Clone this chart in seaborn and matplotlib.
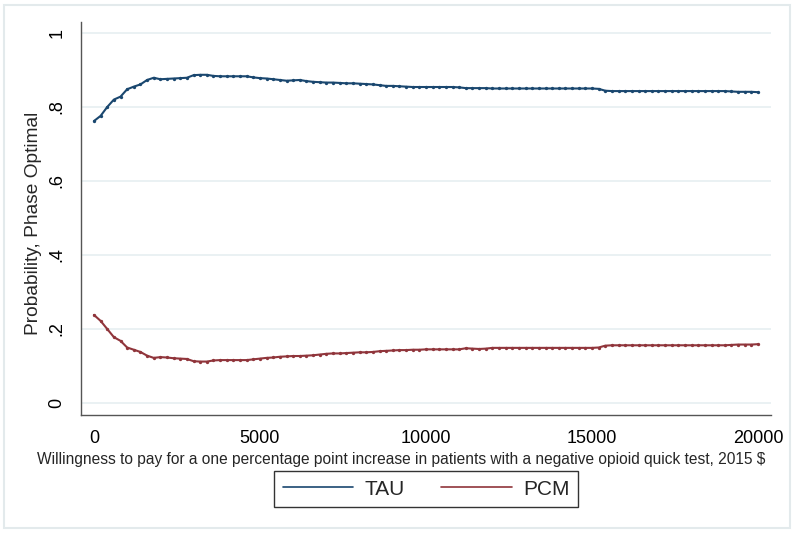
import matplotlib
matplotlib.use("Agg")
import matplotlib.pyplot as plt
import numpy as np
import pandas as pd
import seaborn as sns
from matplotlib.lines import Line2D
from matplotlib.patches import Rectangle

# ---------------- data ----------------
wtp = list(range(0, 20001, 200))

tau = [0.762, 0.776, 0.800, 0.820, 0.828, 0.848, 0.855, 0.861, 0.873, 0.879,
       0.875, 0.876, 0.877, 0.878, 0.879, 0.886, 0.887, 0.887, 0.884, 0.883,
       0.883, 0.883, 0.883, 0.883, 0.880, 0.878, 0.877, 0.875, 0.873, 0.871,
       0.872, 0.873, 0.870, 0.868, 0.867, 0.866, 0.866, 0.865, 0.864, 0.864,
       0.863, 0.862, 0.861, 0.859, 0.857, 0.857, 0.856, 0.855, 0.854, 0.854,
       0.854, 0.854, 0.854, 0.854, 0.854, 0.853, 0.851, 0.851, 0.851, 0.851,
       0.850, 0.850, 0.850, 0.850, 0.850, 0.850, 0.850, 0.850, 0.850, 0.850,
       0.850, 0.850, 0.850, 0.850, 0.850, 0.850, 0.849, 0.844, 0.843, 0.843,
       0.843, 0.843, 0.843, 0.843, 0.843, 0.843, 0.843, 0.843, 0.843, 0.843,
       0.843, 0.843, 0.843, 0.843, 0.843, 0.843, 0.842, 0.841, 0.841, 0.841,
       0.840]

pcm = [0.238, 0.222, 0.200, 0.178, 0.168, 0.150, 0.144, 0.138, 0.128, 0.122,
       0.124, 0.123, 0.121, 0.120, 0.119, 0.113, 0.112, 0.112, 0.115, 0.116,
       0.116, 0.116, 0.116, 0.116, 0.118, 0.120, 0.122, 0.123, 0.125, 0.126,
       0.127, 0.127, 0.128, 0.129, 0.131, 0.133, 0.134, 0.134, 0.135, 0.136,
       0.137, 0.137, 0.138, 0.140, 0.141, 0.142, 0.143, 0.143, 0.144, 0.144,
       0.145, 0.145, 0.145, 0.145, 0.145, 0.145, 0.148, 0.147, 0.146, 0.147,
       0.149, 0.149, 0.149, 0.149, 0.149, 0.149, 0.149, 0.149, 0.149, 0.149,
       0.149, 0.149, 0.149, 0.149, 0.149, 0.149, 0.150, 0.155, 0.156, 0.156,
       0.156, 0.156, 0.156, 0.156, 0.156, 0.156, 0.156, 0.156, 0.156, 0.156,
       0.156, 0.156, 0.156, 0.156, 0.156, 0.156, 0.157, 0.158, 0.158, 0.158,
       0.159]

series_names = ["TAU", "PCM"]
series_colors = ["#1a476f", "#90353b"]
x_ticks = [0, 5000, 10000, 15000, 20000]
y_ticks = [0, 0.2, 0.4, 0.6, 0.8, 1.0]
y_ticklabels = ["0", ".2", ".4", ".6", ".8", "1"]
x_label = "Willingness to pay for a one percentage point increase in patients with a negative opioid quick test, 2015 $"
y_label = "Probability, Phase Optimal"

df = pd.DataFrame({
    "wtp": wtp + wtp,
    "prob": tau + pcm,
    "strategy": ["TAU"] * len(wtp) + ["PCM"] * len(wtp),
})

# ---------------- style ----------------
sns.set_style("white")
plt.rcParams["font.family"] = ["Liberation Sans", "DejaVu Sans"]

W, H = 795, 533
fig = plt.figure(figsize=(W / 100, H / 100), dpi=100)
fig.patch.set_facecolor("white")

# outer light frame
fig.patches.append(Rectangle((4 / W, 5 / H), 786 / W, 523 / H, transform=fig.transFigure,
                             fill=False, edgecolor="#e3eaec", linewidth=1.5, zorder=0))

ax_l, ax_r, ax_t, ax_b = 81, 771, 22, 415
ax = fig.add_axes([ax_l / W, 1 - ax_b / H, (ax_r - ax_l) / W, (ax_b - ax_t) / H])
ax.set_facecolor("white")

for y in y_ticks:
    ax.axhline(y, color="#e8f0f2", linewidth=1.3, zorder=0)

sns.lineplot(data=df, x="wtp", y="prob", hue="strategy", hue_order=series_names,
             palette=dict(zip(series_names, series_colors)), marker="o",
             markersize=2.4, markeredgewidth=0, linewidth=1.5, ax=ax, legend=False)

ax.set_xlim(-390, 20390)
ax.set_ylim(-0.0324, 1.0297)
ax.set_xticks(x_ticks)
ax.set_xticklabels([str(t) for t in x_ticks], fontsize=13)
ax.set_yticks(y_ticks)
ax.set_yticklabels(y_ticklabels, fontsize=13, rotation=90, va="center")
ax.tick_params(axis="both", direction="out", length=7, width=1, color="#555555", colors="black")
ax.tick_params(axis="y", pad=4)
ax.tick_params(axis="x", pad=4)

for side in ["top", "right"]:
    ax.spines[side].set_visible(False)
for side in ["left", "bottom"]:
    ax.spines[side].set_color("#555555")
    ax.spines[side].set_linewidth(1)

ax.set_xlabel(x_label, fontsize=11.2, labelpad=4)
ax.xaxis.set_label_coords((401 - ax_l) / (ax_r - ax_l), -0.095)
ax.set_ylabel(y_label, fontsize=13.8, labelpad=5)
ax.yaxis.label.set_y((ax_b - 223) / (ax_b - ax_t))

handles = [Line2D([], [], color=c, linewidth=1.2) for c in series_colors]
leg = ax.legend(handles, series_names, loc="upper center", bbox_to_anchor=(0.5, -0.143),
                ncol=2, frameon=True, fancybox=False, fontsize=15, handlelength=3.4,
                handletextpad=0.53, columnspacing=1.75, borderpad=0.4, borderaxespad=0)
leg.get_frame().set_edgecolor("black")
leg.get_frame().set_linewidth(1)

fig.savefig("out.png", dpi=100, facecolor="white")
